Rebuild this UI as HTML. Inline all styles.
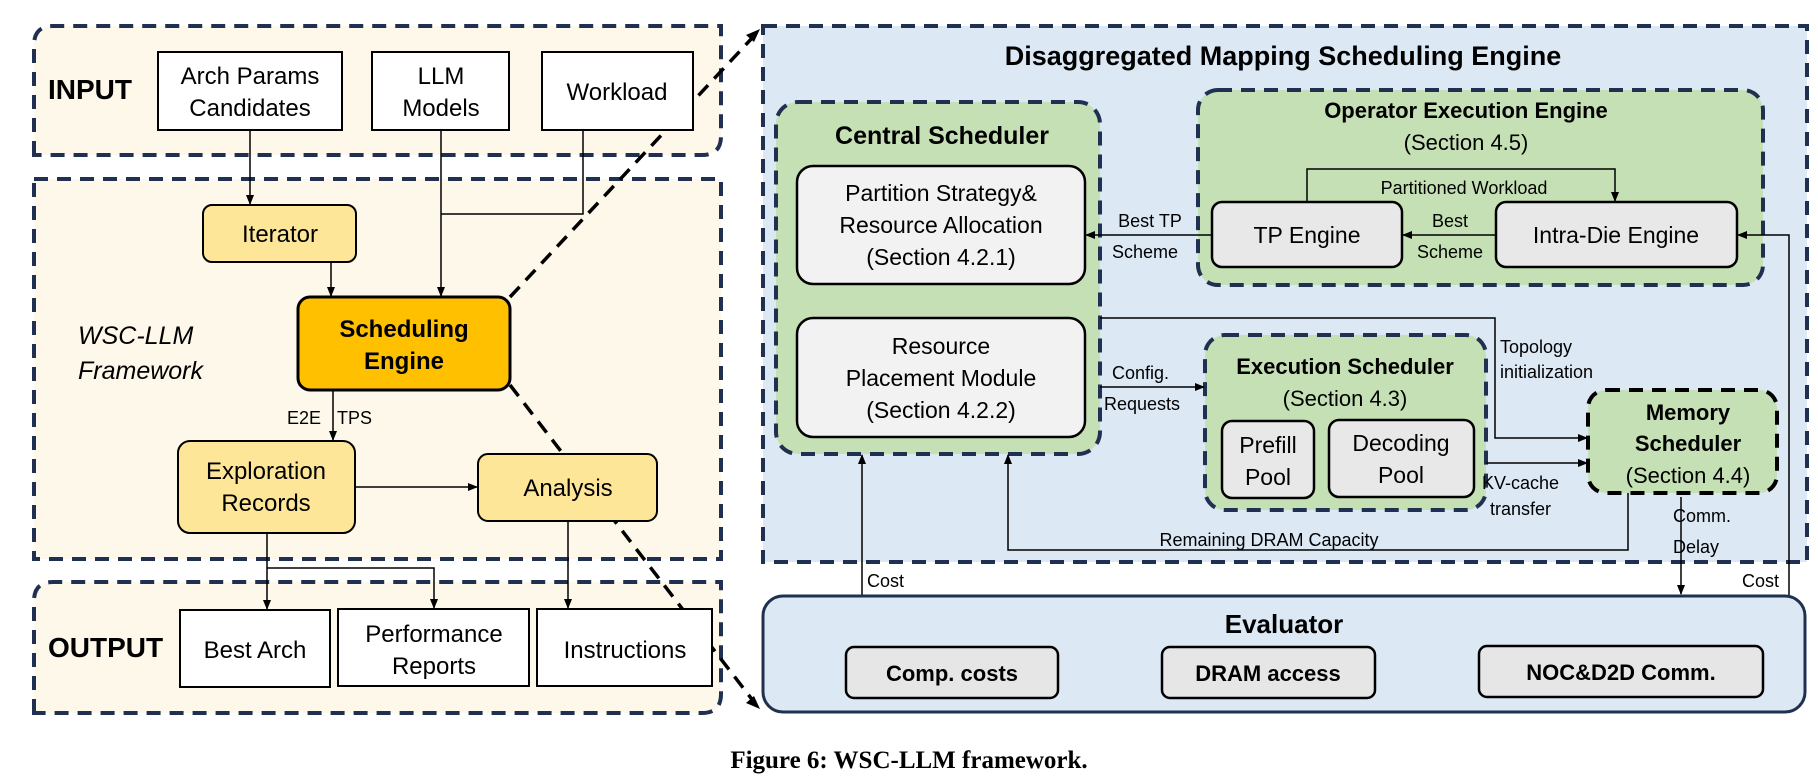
<!DOCTYPE html>
<html><head><meta charset="utf-8"><style>
html,body{margin:0;padding:0;background:#fff;}
svg{display:block;font-family:"Liberation Sans",sans-serif;}
</style></head><body>
<svg width="1818" height="779" viewBox="0 0 1818 779" xmlns="http://www.w3.org/2000/svg">
<defs>
<marker id="a" markerWidth="10" markerHeight="10" refX="9" refY="5" orient="auto" markerUnits="userSpaceOnUse"><path d="M0,1 L10,5 L0,9 z" fill="#000"/></marker>
</defs>
<!-- LEFT -->
<path d="M34,155 L34,45 Q34,26 53,26 L721,26 L721,136 Q721,155 702,155 Z" fill="#fdf8ea" stroke="#1f3050" stroke-width="4" stroke-dasharray="14,9"/>
<rect x="34" y="179" width="687" height="380" fill="#fdf8ea" stroke="#1f3050" stroke-width="4" stroke-dasharray="14,9"/>
<path d="M34,713 L34,601 Q34,582 53,582 L721,582 L721,694 Q721,713 702,713 Z" fill="#fdf8ea" stroke="#1f3050" stroke-width="4" stroke-dasharray="14,9"/>
<g stroke="#000" stroke-width="3.5" stroke-dasharray="14,9" fill="none">
<line x1="510" y1="297" x2="754" y2="36"/>
<line x1="510" y1="385" x2="754" y2="702"/>
</g>
<path d="M760,29 L746,35 L754,42 z" fill="#000"/>
<path d="M760,709 L746,703 L754,696 z" fill="#000"/>
<text x="48" y="99" font-size="28" font-weight="bold">INPUT</text>
<text x="48" y="657" font-size="28" font-weight="bold">OUTPUT</text>
<g fill="#fff" stroke="#000" stroke-width="2">
<rect x="158" y="52" width="184" height="78"/>
<rect x="372" y="52" width="137" height="78"/>
<rect x="542" y="52" width="151" height="78"/>
<rect x="180" y="610" width="150" height="77"/>
<rect x="338" y="609" width="191" height="77"/>
<rect x="537" y="609" width="175" height="77"/>
</g>
<g font-size="24" text-anchor="middle">
<text x="250" y="84">Arch Params</text><text x="250" y="116">Candidates</text>
<text x="441" y="84">LLM</text><text x="441" y="116">Models</text>
<text x="617" y="100">Workload</text>
<text x="255" y="658">Best Arch</text>
<text x="434" y="642">Performance</text><text x="434" y="674">Reports</text>
<text x="625" y="658">Instructions</text>
</g>
<rect x="203" y="205" width="153" height="57" rx="9" fill="#fee699" stroke="#000" stroke-width="2"/>
<text x="280" y="242" font-size="24" text-anchor="middle">Iterator</text>
<rect x="298" y="297" width="212" height="93" rx="12" fill="#ffc000" stroke="#000" stroke-width="3"/>
<text x="404" y="337" font-size="24" font-weight="bold" text-anchor="middle">Scheduling</text>
<text x="404" y="369" font-size="24" font-weight="bold" text-anchor="middle">Engine</text>
<rect x="178" y="441" width="177" height="92" rx="12" fill="#fee699" stroke="#000" stroke-width="2"/>
<text x="266" y="479" font-size="24" text-anchor="middle">Exploration</text>
<text x="266" y="511" font-size="24" text-anchor="middle">Records</text>
<rect x="478" y="454" width="179" height="67" rx="10" fill="#fee699" stroke="#000" stroke-width="2"/>
<text x="568" y="496" font-size="24" text-anchor="middle">Analysis</text>
<text x="78" y="344" font-size="25" font-style="italic">WSC-LLM</text>
<text x="78" y="379" font-size="25" font-style="italic">Framework</text>
<text x="287" y="424" font-size="18">E2E</text><text x="337" y="424" font-size="18">TPS</text>
<g stroke="#000" stroke-width="1.5" fill="none">
<line x1="250" y1="130" x2="250" y2="204" marker-end="url(#a)"/>
<line x1="441" y1="130" x2="441" y2="296" marker-end="url(#a)"/>
<polyline points="583,130 583,214 441,214"/>
<line x1="331" y1="262" x2="331" y2="296" marker-end="url(#a)"/>
<line x1="333" y1="390" x2="333" y2="440" marker-end="url(#a)"/>
<line x1="355" y1="487" x2="477" y2="487" marker-end="url(#a)"/>
<line x1="267" y1="533" x2="267" y2="609" marker-end="url(#a)"/>
<polyline points="267,568 434,568 434,608" marker-end="url(#a)"/>
<line x1="568" y1="521" x2="568" y2="608" marker-end="url(#a)"/>
</g>
<!-- RIGHT -->
<rect x="763" y="26" width="1044" height="536" fill="#dde8f5" stroke="#1f3050" stroke-width="4" stroke-dasharray="14,9"/>
<text x="1283" y="65" font-size="27" font-weight="bold" text-anchor="middle">Disaggregated Mapping Scheduling Engine</text>
<rect x="776" y="102" width="324" height="352" rx="22" fill="#c5e0b4" stroke="#1f3050" stroke-width="4" stroke-dasharray="14,9"/>
<text x="942" y="144" font-size="25" font-weight="bold" text-anchor="middle">Central Scheduler</text>
<rect x="797" y="166" width="288" height="118" rx="16" fill="#f2f2f2" stroke="#000" stroke-width="2.5"/>
<rect x="797" y="318" width="288" height="119" rx="16" fill="#f2f2f2" stroke="#000" stroke-width="2.5"/>
<g font-size="23" text-anchor="middle">
<text x="941" y="201">Partition Strategy&amp;</text>
<text x="941" y="233">Resource Allocation</text>
<text x="941" y="265">(Section 4.2.1)</text>
<text x="941" y="354">Resource</text>
<text x="941" y="386">Placement Module</text>
<text x="941" y="418">(Section 4.2.2)</text>
</g>
<rect x="1198" y="90" width="565" height="195" rx="20" fill="#c5e0b4" stroke="#1f3050" stroke-width="4" stroke-dasharray="14,9"/>
<text x="1466" y="118" font-size="22" font-weight="bold" text-anchor="middle">Operator Execution Engine</text>
<text x="1466" y="150" font-size="22" text-anchor="middle">(Section 4.5)</text>
<rect x="1212" y="202" width="190" height="65" rx="10" fill="#e8e8e8" stroke="#000" stroke-width="2.5"/>
<rect x="1496" y="202" width="241" height="65" rx="10" fill="#e8e8e8" stroke="#000" stroke-width="2.5"/>
<text x="1307" y="243" font-size="23" text-anchor="middle">TP Engine</text>
<text x="1616" y="243" font-size="23" text-anchor="middle">Intra-Die Engine</text>
<text x="1464" y="194" font-size="18" text-anchor="middle">Partitioned Workload</text>
<text x="1450" y="227" font-size="18" text-anchor="middle">Best</text>
<text x="1450" y="258" font-size="18" text-anchor="middle">Scheme</text>
<text x="1150" y="227" font-size="18" text-anchor="middle">Best TP</text>
<text x="1145" y="258" font-size="18" text-anchor="middle">Scheme</text>
<rect x="1205" y="335" width="281" height="175" rx="20" fill="#c5e0b4" stroke="#1f3050" stroke-width="4" stroke-dasharray="14,9"/>
<text x="1345" y="374" font-size="22" font-weight="bold" text-anchor="middle">Execution Scheduler</text>
<text x="1345" y="406" font-size="22" text-anchor="middle">(Section 4.3)</text>
<rect x="1222" y="421" width="92" height="77" rx="10" fill="#e8e8e8" stroke="#000" stroke-width="2.5"/>
<rect x="1329" y="420" width="145" height="77" rx="10" fill="#e8e8e8" stroke="#000" stroke-width="2.5"/>
<text x="1268" y="453" font-size="23" text-anchor="middle">Prefill</text>
<text x="1268" y="485" font-size="23" text-anchor="middle">Pool</text>
<text x="1401" y="451" font-size="23" text-anchor="middle">Decoding</text>
<text x="1401" y="483" font-size="23" text-anchor="middle">Pool</text>
<rect x="1588" y="390" width="189" height="103" rx="18" fill="#c5e0b4" stroke="#000" stroke-width="4" stroke-dasharray="14,9"/>
<text x="1688" y="420" font-size="22" font-weight="bold" text-anchor="middle">Memory</text>
<text x="1688" y="451" font-size="22" font-weight="bold" text-anchor="middle">Scheduler</text>
<text x="1688" y="483" font-size="22" text-anchor="middle">(Section 4.4)</text>
<g font-size="18">
<text x="1112" y="379">Config.</text><text x="1104" y="410">Requests</text>
<text x="1500" y="353">Topology</text><text x="1500" y="378">initialization</text>
<text x="1482" y="489">KV-cache</text><text x="1490" y="515">transfer</text>
<text x="1269" y="546" text-anchor="middle">Remaining DRAM Capacity</text>
<text x="1673" y="522">Comm.</text><text x="1673" y="553">Delay</text>
<text x="867" y="587">Cost</text><text x="1742" y="587">Cost</text>
</g>
<g stroke="#000" stroke-width="1.5" fill="none">
<polyline points="1307,202 1307,169 1615,169 1615,201" marker-end="url(#a)"/>
<line x1="1496" y1="235" x2="1403" y2="235" marker-end="url(#a)"/>
<line x1="1212" y1="235" x2="1086" y2="235" marker-end="url(#a)"/>
<line x1="1100" y1="387" x2="1204" y2="387" marker-end="url(#a)"/>
<polyline points="1100,318 1495,318 1495,438 1587,438" marker-end="url(#a)"/>
<line x1="1486" y1="463" x2="1587" y2="463" marker-end="url(#a)"/>
<polyline points="1628,493 1628,550 1008,550 1008,455" marker-end="url(#a)"/>
<line x1="1681" y1="497" x2="1681" y2="594" marker-end="url(#a)"/>
<polyline points="1789,595 1789,235 1738,235" marker-end="url(#a)"/>
<line x1="862" y1="597" x2="862" y2="455" marker-end="url(#a)"/>
</g>
<rect x="763" y="596" width="1042" height="116" rx="20" fill="#dde8f5" stroke="#1f3050" stroke-width="3"/>
<text x="1284" y="633" font-size="26" font-weight="bold" text-anchor="middle">Evaluator</text>
<g fill="#e6e6e6" stroke="#000" stroke-width="2.5">
<rect x="846" y="647" width="212" height="51" rx="8"/>
<rect x="1162" y="647" width="213" height="51" rx="8"/>
<rect x="1479" y="646" width="284" height="51" rx="8"/>
</g>
<g font-size="22" font-weight="bold" text-anchor="middle">
<text x="952" y="681">Comp. costs</text>
<text x="1268" y="681">DRAM access</text>
<text x="1621" y="680">NOC&amp;D2D Comm.</text>
</g>
<text x="909" y="768" font-size="25" font-weight="bold" text-anchor="middle" font-family="Liberation Serif, serif">Figure 6: WSC-LLM framework.</text>
</svg>
</body></html>
